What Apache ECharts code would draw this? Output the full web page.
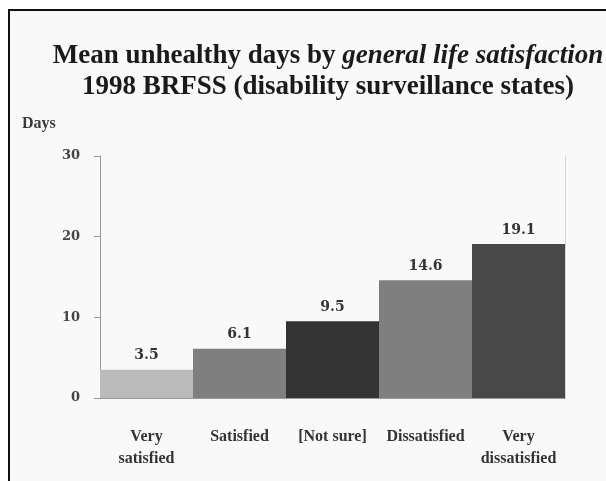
<!DOCTYPE html>
<html>
<head>
<meta charset="utf-8">
<style>
  html, body { margin: 0; padding: 0; background: #ffffff; }
  #chart { width: 606px; height: 481px; }
</style>
<script src="https://cdn.jsdelivr.net/npm/echarts@6/dist/echarts.min.js"></script>
</head>
<body>
<div id="chart"></div>
<script>
// Satisfaction groups and the mean number of unhealthy days in each
const categories = ['Very\nsatisfied', 'Satisfied', '[Not sure]', 'Dissatisfied', 'Very\ndissatisfied'];
const meanDays = [3.5, 6.1, 9.5, 14.6, 19.1];
const barColors = ['#bababa', '#7f7f7f', '#333333', '#7f7f7f', '#484848'];
const yTicks = [0, 10, 20, 30];

const serif = '"Liberation Serif", "Times New Roman", serif';
const wideSerif = '"DejaVu Serif", serif';
const chart = echarts.init(document.getElementById('chart'), null, { renderer: 'canvas' });

chart.setOption({
  animation: false,
  backgroundColor: '#ffffff',
  graphic: [
    {
      // framed panel behind the chart
      type: 'rect',
      z: -10,
      shape: { x: 9, y: 10, width: 640, height: 520 },
      style: { fill: '#f9f9f9', stroke: '#111111', lineWidth: 2 }
    },
    {
      type: 'text',
      left: 22,
      top: 116,
      style: { text: 'Days', font: 'bold 16px ' + serif, fill: '#3a3a3a' }
    }
  ],
  title: {
    text: 'Mean unhealthy days by {i|general life satisfaction}\n1998 BRFSS (disability surveillance states)',
    left: 323,
    top: 36,
    textAlign: 'center',
    textStyle: {
      fontFamily: serif,
      fontWeight: 'bold',
      fontSize: 27,
      color: '#1a1a1a',
      lineHeight: 31,
      rich: {
        i: { fontFamily: serif, fontWeight: 'bold', fontStyle: 'italic', fontSize: 27, color: '#1a1a1a', lineHeight: 31 }
      }
    }
  },
  grid: { left: 100, right: 41, top: 156, bottom: 83 },
  xAxis: {
    type: 'category',
    data: categories,
    boundaryGap: true,
    axisLine: { lineStyle: { color: '#999999', width: 1 } },
    axisTick: { show: false },
    axisLabel: {
      margin: 28,
      fontFamily: serif,
      fontWeight: 'bold',
      fontSize: 16,
      color: '#333333',
      lineHeight: 22,
      interval: 0
    }
  },
  yAxis: [
    {
      type: 'value',
      min: yTicks[0],
      max: yTicks[yTicks.length - 1],
      interval: 10,
      axisLine: { show: true, lineStyle: { color: '#999999' } },
      axisTick: { show: true, length: 6, lineStyle: { color: '#999999' } },
      splitLine: { show: false },
      axisLabel: {
        margin: 20,
        fontFamily: wideSerif,
        fontWeight: 'bold',
        fontSize: 13,
        color: '#444444',
        formatter: v => yTicks.includes(v) ? String(v) : ''
      }
    },
    {
      type: 'value',
      position: 'right',
      min: 0,
      max: 30,
      interval: 10,
      axisLine: { show: true, lineStyle: { color: '#d4d4d4' } },
      axisTick: { show: false },
      axisLabel: { show: false },
      splitLine: { show: false }
    }
  ],
  series: [
    {
      type: 'bar',
      data: meanDays.map((v, i) => ({ value: v, itemStyle: { color: barColors[i] } })),
      barCategoryGap: '0%',
      barWidth: '100%',
      label: {
        show: true,
        position: 'top',
        distance: 7,
        fontFamily: wideSerif,
        fontWeight: 'bold',
        fontSize: 14,
        color: '#333333',
        formatter: p => p.value.toFixed(1)
      }
    }
  ]
});
</script>
</body>
</html>
